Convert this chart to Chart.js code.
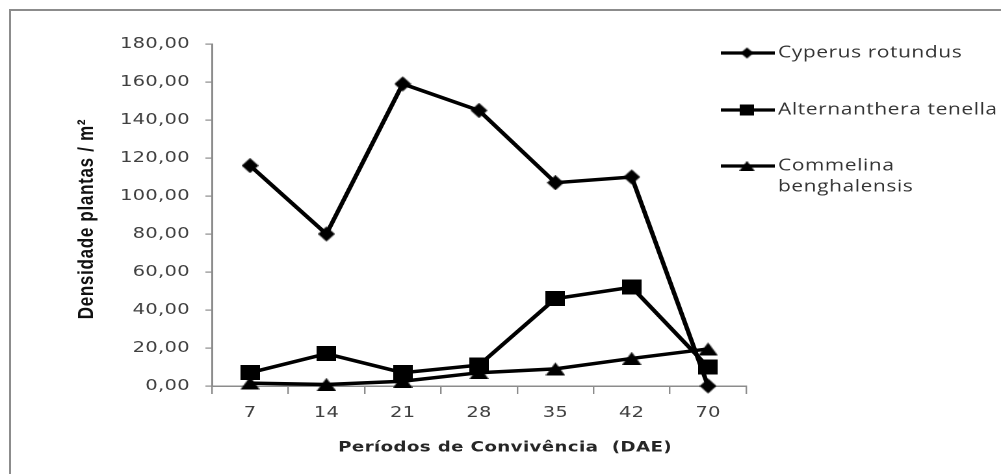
<!DOCTYPE html>
<html>
<head>
<meta charset="utf-8">
<script src="https://cdn.jsdelivr.net/npm/chart.js@4.4.1/dist/chart.umd.min.js"></script>
<style>
  html, body { margin: 0; padding: 0; background: #ffffff; width: 1001px; height: 474px; overflow: hidden; }
  #frame { position: absolute; left: 9px; top: 9px; width: 992px; height: 465px;
           border-top: 2px solid #8c8c8c; border-left: 2px solid #8c8c8c; box-sizing: border-box; }
  #wrap { position: absolute; left: 0; top: 0; width: 770px; height: 474px;
          transform: scaleX(1.3); transform-origin: 0 0; }
</style>
</head>
<body>
<div id="frame"></div>
<div id="wrap"><canvas id="c" width="770" height="474"></canvas></div>
<script>
// ---- data ----
const categories = ['7', '14', '21', '28', '35', '42', '70'];
const cyperusRotundus = [116, 80, 159, 145, 107, 110, 0];
const alternantheraTenella = [7, 17, 7, 11, 46, 52, 10];
const commelinaBenghalensis = [1.5, 0.8, 2.5, 7, 9, 14.5, 19.5];
const yTickValues = [0, 20, 40, 60, 80, 100, 120, 140, 160, 180];
const yTickLabels = ['0,00', '20,00', '40,00', '60,00', '80,00', '100,00', '120,00', '140,00', '160,00', '180,00'];
const seriesNames = ['Cyperus rotundus', 'Alternanthera tenella', 'Commelina benghalensis'];
const legendLines = [['Cyperus rotundus'], ['Alternanthera tenella'], ['Commelina', 'benghalensis']];
const xTitle = 'Períodos de Convivência  (DAE)';
const yTitle = 'Densidade plantas / m²';

// ---- marker shapes (canvas images) ----
function makeMarker(shape, w, h) {
  const cv = document.createElement('canvas');
  cv.width = w; cv.height = h;
  const g = cv.getContext('2d');
  g.fillStyle = '#000';
  g.beginPath();
  if (shape === 'diamond') {
    g.moveTo(w / 2, 0); g.lineTo(w, h / 2); g.lineTo(w / 2, h); g.lineTo(0, h / 2);
  } else if (shape === 'square') {
    g.rect(0, 0, w, h);
  } else {
    g.moveTo(w / 2, 0); g.lineTo(w, h); g.lineTo(0, h);
  }
  g.closePath(); g.fill();
  return cv;
}
const markers = [makeMarker('diamond', 13, 15), makeMarker('square', 15, 15), makeMarker('triangle', 15, 13)];
const legendMarkers = [makeMarker('diamond', 10, 11), makeMarker('square', 11, 11), makeMarker('triangle', 12, 10)];

// ---- plugins ----
const tickSpacing = {
  id: 'tickSpacing',
  beforeDraw(chart) { chart.ctx.letterSpacing = '0.2px'; }
};

const extras = {
  id: 'extras',
  afterDraw(chart) {
    const ctx = chart.ctx;
    const area = chart.chartArea;
    ctx.save();
    // y axis title
    ctx.save();
    ctx.letterSpacing = '0.7px';
    ctx.translate(67, (area.top + area.bottom) / 2 + 4);
    ctx.rotate(-Math.PI / 2);
    ctx.font = 'bold 17px "Liberation Sans", Arial, sans-serif';
    ctx.fillStyle = '#111111';
    ctx.textAlign = 'center';
    ctx.textBaseline = 'middle';
    ctx.fillText(yTitle, 0, 0);
    ctx.restore();
    // x axis title
    ctx.save();
    ctx.letterSpacing = '0.3px';
    ctx.font = 'bold 14px "DejaVu Sans", sans-serif';
    ctx.fillStyle = '#262626';
    ctx.textAlign = 'center';
    ctx.textBaseline = 'middle';
    ctx.fillText(xTitle, 388.5, 448);
    ctx.restore();
    // legend
    const ys = [53, 110, 166];
    const x0 = 554.5, x1 = 596, xm = 574.6, xt = 598.5;
    chart.data.datasets.forEach((ds, i) => {
      const y = ys[i];
      ctx.save();
      ctx.strokeStyle = ds.borderColor;
      ctx.lineWidth = 3.2;
      ctx.beginPath(); ctx.moveTo(x0, y); ctx.lineTo(x1, y); ctx.stroke();
      const m = legendMarkers[i];
      ctx.drawImage(m, xm - m.width / 2, y - m.height / 2);
      ctx.letterSpacing = '0.5px';
      ctx.font = '16px "Open Sans", sans-serif';
      ctx.fillStyle = '#333333';
      ctx.textAlign = 'left';
      ctx.textBaseline = 'middle';
      legendLines[i].forEach((t, k) => ctx.fillText(t, xt, y + k * 21));
      ctx.restore();
    });
    ctx.restore();
  }
};

const axisColor = '#8c8c8c';
const tickFont = { family: '"DejaVu Sans", Verdana, sans-serif', size: 15 };

function ds(i, values, order) {
  return {
    label: seriesNames[i],
    data: values,
    borderColor: '#000000',
    backgroundColor: '#000000',
    borderWidth: 3.5,
    pointStyle: markers[i],
    pointRadius: 8,
    pointHoverRadius: 8,
    tension: 0,
    clip: false,
    order: order
  };
}

new Chart(document.getElementById('c'), {
  type: 'line',
  data: {
    labels: categories,
    datasets: [
      ds(0, cyperusRotundus, 2),
      ds(1, alternantheraTenella, 1),
      ds(2, commelinaBenghalensis, 0)
    ]
  },
  options: {
    responsive: false,
    animation: false,
    devicePixelRatio: 2,
    layout: { padding: { left: 0, top: 44, right: 196, bottom: 0 } },
    plugins: { legend: { display: false }, tooltip: { enabled: false }, title: { display: false } },
    scales: {
      x: {
        type: 'category',
        offset: true,
        grid: { display: true, drawOnChartArea: false, drawTicks: true, tickLength: 8, offset: true, color: axisColor, lineWidth: 1.2 },
        border: { display: true, color: axisColor, width: 1.5 },
        ticks: { font: tickFont, color: '#404040', padding: 10, maxRotation: 0, autoSkip: false },
        afterFit(s) { s.height = 88; }
      },
      y: {
        min: 0,
        max: 180,
        afterBuildTicks(s) { s.ticks = yTickValues.map(v => ({ value: v })); },
        grid: { display: true, drawOnChartArea: false, drawTicks: true, tickLength: 5, color: axisColor, lineWidth: 1.2 },
        border: { display: true, color: axisColor, width: 1.5 },
        ticks: {
          font: tickFont, color: '#404040', padding: 12,
          callback(value) { const k = yTickValues.indexOf(value); return k >= 0 ? yTickLabels[k] : ''; }
        },
        afterFit(s) { s.width = 163; }
      }
    }
  },
  plugins: [tickSpacing, extras]
});
</script>
</body>
</html>
